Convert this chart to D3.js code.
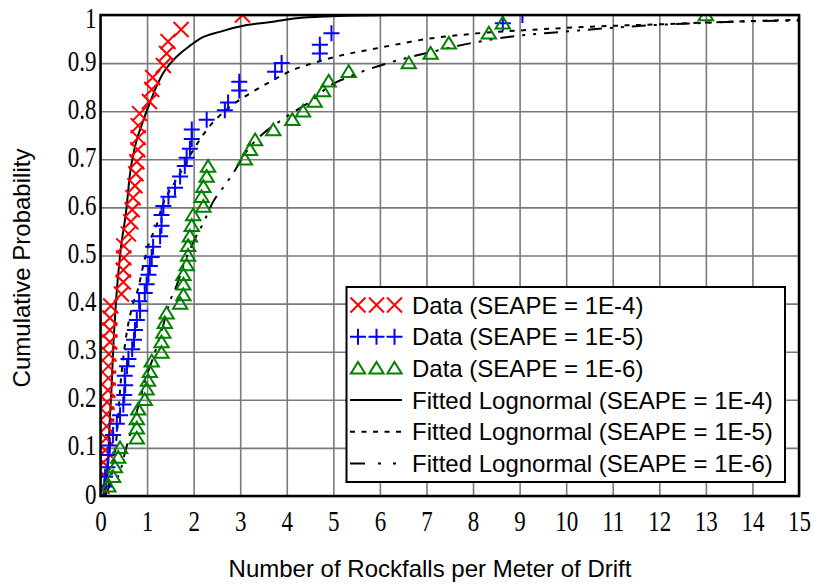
<!DOCTYPE html>
<html>
<head>
<meta charset="utf-8">
<style>
  body { margin: 0; background: #fff; }
  .tick text { font-family: "Liberation Serif", "Times New Roman", serif; }
  .title { font-family: "Liberation Sans", Arial, sans-serif; font-size: 24px; fill: #000; }
  .legend text { font-family: "Liberation Sans", Arial, sans-serif; font-size: 24px; fill: #000; }
</style>
</head>
<body>
<svg id="chart" width="814" height="584"></svg>
<script src="https://d3js.org/d3.v7.min.js"></script>
<script>
  // axis ticks
  const xTicks = d3.range(0, 16);
  const yTicks = [0, 0.1, 0.2, 0.3, 0.4, 0.5, 0.6, 0.7, 0.8, 0.9, 1];

  // data points [rockfalls per meter, cumulative probability]
  const data4 = [[0.03,0.02],[0.06,0.045],[0.06,0.07],[0.1,0.095],[0.12,0.12],[0.13,0.145],[0.13,0.17],
    [0.14,0.195],[0.16,0.22],[0.17,0.245],[0.17,0.27],[0.18,0.295],[0.2,0.32],[0.2,0.345],[0.2,0.37],
    [0.22,0.395],[0.45,0.42],[0.49,0.445],[0.49,0.47],[0.5,0.495],[0.5,0.52],[0.6,0.545],[0.65,0.57],
    [0.68,0.595],[0.7,0.62],[0.74,0.645],[0.76,0.67],[0.78,0.695],[0.8,0.72],[0.81,0.745],[0.81,0.77],
    [0.84,0.795],[1.05,0.82],[1.1,0.845],[1.12,0.87],[1.35,0.895],[1.42,0.92],[1.45,0.945],[1.73,0.97],[3.05,1.0]];

  const data5 = [[0.08,0.02],[0.1,0.04],[0.15,0.06],[0.17,0.085],[0.2,0.105],[0.27,0.127],[0.35,0.15],
    [0.42,0.168],[0.49,0.19],[0.51,0.21],[0.53,0.23],[0.52,0.25],[0.57,0.27],[0.6,0.285],[0.68,0.305],
    [0.72,0.325],[0.74,0.345],[0.78,0.366],[0.85,0.385],[0.83,0.405],[0.95,0.422],[0.99,0.44],[1.03,0.46],
    [1.06,0.478],[1.1,0.497],[1.13,0.518],[1.28,0.54],[1.31,0.562],[1.31,0.584],[1.35,0.603],[1.46,0.622],
    [1.6,0.641],[1.71,0.664],[1.81,0.686],[1.85,0.703],[1.92,0.722],[1.96,0.742],[1.96,0.762],[2.28,0.782],
    [2.67,0.802],[2.74,0.818],[2.98,0.843],[2.98,0.861],[3.75,0.882],[3.89,0.9],[4.71,0.92],[4.71,0.938],
    [4.96,0.962],[8.64,0.983],[9.06,1.0]];

  const data6 = [[0.17,0.02],[0.27,0.04],[0.31,0.06],[0.38,0.08],[0.42,0.1],[0.78,0.12],[0.78,0.141],
    [0.78,0.16],[0.81,0.18],[0.95,0.2],[0.99,0.222],[1.02,0.24],[1.06,0.258],[1.1,0.28],[1.31,0.298],
    [1.31,0.32],[1.35,0.34],[1.38,0.36],[1.42,0.38],[1.71,0.4],[1.78,0.418],[1.78,0.44],[1.78,0.46],
    [1.85,0.48],[1.88,0.5],[1.88,0.52],[1.92,0.54],[1.96,0.562],[1.99,0.584],[2.21,0.602],[2.17,0.622],
    [2.21,0.643],[2.28,0.664],[2.31,0.685],[3.1,0.7],[3.21,0.72],[3.32,0.74],[3.71,0.761],[4.12,0.782],
    [4.35,0.8],[4.6,0.82],[4.78,0.842],[4.9,0.862],[5.33,0.882],[6.62,0.9],[7.09,0.92],[7.48,0.941],
    [8.34,0.962],[8.64,0.983],[13.0,1.0]];

  // fitted lognormal curves
  const fit4 = [[0.02,0],[0.1,0.01],[0.17,0.09],[0.2,0.16],[0.24,0.23],[0.27,0.3],[0.33,0.4],[0.42,0.5],
    [0.56,0.6],[0.63,0.667],[0.75,0.73],[0.88,0.77],[1.03,0.81],[1.2,0.851],[1.35,0.88],[1.53,0.903],
    [1.71,0.92],[1.88,0.933],[2.14,0.951],[2.56,0.965],[3.14,0.979],[3.71,0.986],[4.21,0.993],[4.85,0.997],[6.2,1.0]];

  const fit5 = [[0.05,0],[0.25,0.05],[0.31,0.09],[0.37,0.15],[0.42,0.22],[0.53,0.318],[0.67,0.39],
    [0.81,0.432],[0.92,0.48],[1.03,0.522],[1.21,0.565],[1.31,0.598],[1.6,0.653],[1.71,0.671],[1.99,0.719],
    [2.28,0.761],[2.78,0.809],[3.21,0.837],[3.64,0.861],[4.14,0.886],[4.57,0.9],[5.0,0.912],[6.0,0.932],
    [7.0,0.95],[8.0,0.961],[9.2,0.969],[10.6,0.976],[12.1,0.981],[13.5,0.986],[15,0.99]];

  const fit6 = [[0.1,0],[0.17,0.016],[0.42,0.05],[0.53,0.092],[0.7,0.15],[0.85,0.2],[0.95,0.238],
    [1.1,0.279],[1.35,0.356],[1.49,0.404],[1.64,0.439],[1.81,0.487],[2.03,0.535],[2.21,0.568],[2.42,0.612],
    [2.64,0.642],[2.82,0.667],[3.21,0.726],[3.42,0.747],[4.0,0.789],[4.64,0.83],[4.85,0.848],[5.35,0.872],
    [6.28,0.903],[7.14,0.924],[7.93,0.941],[8.8,0.955],[9.93,0.965],[11.36,0.976],[12.8,0.983],[14.8,0.988],[15,0.988]];

  const legendLabels = ["Data (SEAPE = 1E-4)", "Data (SEAPE = 1E-5)", "Data (SEAPE = 1E-6)",
    "Fitted Lognormal (SEAPE = 1E-4)", "Fitted Lognormal (SEAPE = 1E-5)", "Fitted Lognormal (SEAPE = 1E-6)"];

  const svg = d3.select("#chart");
  const pLeft = 100.5, pRight = 799, pTop = 15, pBottom = 496;

  const x = d3.scaleLinear().domain([0, 15]).range([pLeft, pRight]);
  const y = d3.scaleLinear().domain([0, 1]).range([pBottom, pTop]);

  // grid + tick labels
  const xAxis = svg.append("g")
    .attr("transform", `translate(0,${pBottom})`)
    .call(d3.axisBottom(x).tickValues(xTicks).tickSize(-(pBottom - pTop)).tickPadding(0).tickFormat(d3.format("d")));
  const yAxis = svg.append("g")
    .attr("transform", `translate(${pLeft},0)`)
    .call(d3.axisLeft(y).tickValues(yTicks).tickSize(-(pRight - pLeft)).tickPadding(0)
      .tickFormat(d => d === 0 ? "0" : d === 1 ? "1" : d3.format(".1f")(d)));

  [xAxis, yAxis].forEach(a => {
    a.select(".domain").remove();
    a.selectAll(".tick line").attr("stroke", "#7a7a7a").attr("stroke-width", 1.6);
    a.selectAll(".tick text").attr("font-size", 23).attr("fill", "#000");
  });
  xAxis.selectAll(".tick text")
    .attr("y", 0).attr("dy", 0)
    .attr("transform", "translate(0,35) scale(1,1.3)");
  // the top label sits a little lower so it stays inside the page
  yAxis.selectAll(".tick text")
    .attr("x", 0).attr("dy", 0)
    .attr("transform", d => `translate(-4,${d === 1 ? 12 : 7}) scale(1,1.3)`);

  svg.append("clipPath").attr("id", "plot-clip")
    .append("rect").attr("x", pLeft).attr("y", pTop).attr("width", pRight - pLeft).attr("height", pBottom - pTop);

  const plot = svg.append("g").attr("clip-path", "url(#plot-clip)");

  const line = d3.line().x(d => x(d[0])).y(d => y(d[1])).curve(d3.curveMonotoneX);

  const fits = [
    { data: fit4, dash: null },
    { data: fit5, dash: "5,6.5" },
    { data: fit6, dash: "14,8,3,8,3,8" }
  ];
  plot.selectAll("path.fit")
    .data(fits)
    .join("path")
    .attr("class", "fit")
    .attr("d", d => line(d.data))
    .attr("fill", "none")
    .attr("stroke", "#000")
    .attr("stroke-width", 2)
    .attr("stroke-dasharray", d => d.dash);

  // marker shapes
  const xMark = s => `M${-s},${-s}L${s},${s}M${-s},${s}L${s},${-s}`;
  const plusMark = s => `M${-s},0L${s},0M0,${-s}L0,${s}`;
  const triMark = s => `M0,${-s}L${s * 1.1},${s * 0.8}L${-s * 1.1},${s * 0.8}Z`;

  const series = [
    { data: data4, color: "#ff0000", path: xMark(7.5) },
    { data: data5, color: "#0000ff", path: plusMark(8) },
    { data: data6, color: "#008000", path: triMark(6.5) }
  ];

  series.forEach(s => {
    plot.append("g")
      .selectAll("path")
      .data(s.data)
      .join("path")
      .attr("transform", d => `translate(${x(d[0])},${y(d[1])})`)
      .attr("d", s.path)
      .attr("fill", "none")
      .attr("stroke", s.color)
      .attr("stroke-width", 2);
  });

  // frame
  svg.append("rect")
    .attr("x", pLeft).attr("y", pTop)
    .attr("width", pRight - pLeft).attr("height", pBottom - pTop)
    .attr("fill", "none").attr("stroke", "#000").attr("stroke-width", 2.5);

  // axis titles
  svg.append("text").attr("class", "title")
    .attr("x", 430).attr("y", 577)
    .attr("text-anchor", "middle")
    .text("Number of Rockfalls per Meter of Drift");
  svg.append("text").attr("class", "title")
    .attr("transform", "translate(30,268) rotate(-90)")
    .attr("text-anchor", "middle")
    .text("Cumulative Probability");

  // legend
  const lg = svg.append("g").attr("class", "legend");
  lg.append("rect")
    .attr("x", 346.5).attr("y", 287)
    .attr("width", 438.5).attr("height", 195)
    .attr("fill", "#fff").attr("stroke", "#000").attr("stroke-width", 2);

  const rowY = i => 305 + i * 31.7;
  legendLabels.forEach((label, i) => {
    const row = lg.append("g").attr("transform", `translate(0,${rowY(i)})`);
    if (i < 3) {
      [358, 376.5, 394.5].forEach(cx => {
        row.append("path")
          .attr("transform", `translate(${cx},0)`)
          .attr("d", series[i].path)
          .attr("fill", "none")
          .attr("stroke", series[i].color)
          .attr("stroke-width", 2);
      });
    } else {
      row.append("line")
        .attr("x1", 350).attr("x2", 402)
        .attr("stroke", "#000").attr("stroke-width", 2)
        .attr("stroke-dasharray", i === 3 ? null : i === 4 ? "5,6.5" : "15,13,3,12,3,20");
    }
    row.append("text")
      .attr("x", 412).attr("y", 8.5)
      .text(label);
  });
</script>
</body>
</html>
